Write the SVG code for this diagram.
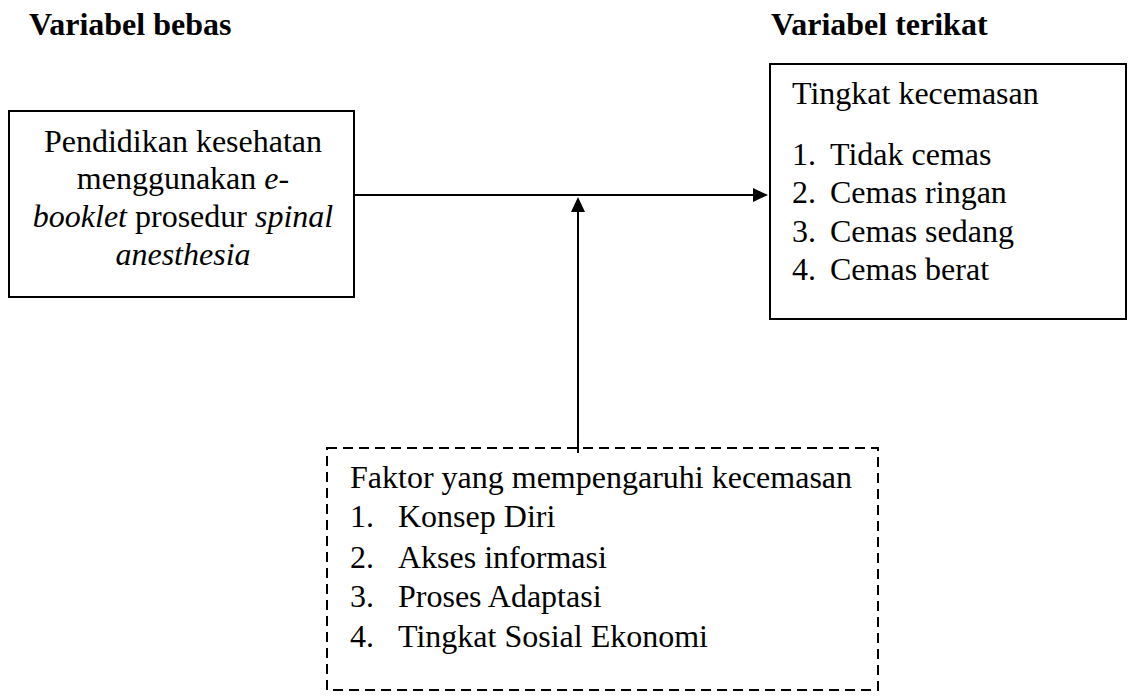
<svg xmlns="http://www.w3.org/2000/svg" width="1129" height="697" viewBox="0 0 1129 697">
<style>
.t{font-family:"Liberation Serif","Times New Roman",serif;font-size:32px;fill:#000}
.b{font-weight:bold}
.i{font-style:italic}
.box{fill:#fff;stroke:#000;stroke-width:2}
.dash{fill:#fff;stroke:#000;stroke-width:2;stroke-dasharray:10 6}
.con{stroke:#000;stroke-width:2;fill:none}
</style>
<defs>
<marker id="arr" markerUnits="userSpaceOnUse" markerWidth="16" markerHeight="14" refX="2" refY="7" orient="auto">
<path d="M0,0 L15,7 L0,14 Z" fill="#000"/>
</marker>
</defs>
<rect width="1129" height="697" fill="#fff"/>
<g id="titles">
<text class="t b" x="29" y="35">Variabel bebas</text>
<text class="t b" x="771" y="35">Variabel terikat</text>
</g>
<g id="node-bebas">
<rect class="box" x="9" y="111" width="345" height="186"/>
<text class="t" x="183" y="152" text-anchor="middle">Pendidikan kesehatan</text>
<text class="t" x="183" y="189" text-anchor="middle">menggunakan <tspan class="i">e-</tspan></text>
<text class="t" x="183" y="227" text-anchor="middle"><tspan class="i">booklet</tspan> prosedur <tspan class="i">spinal</tspan></text>
<text class="t i" x="183" y="265" text-anchor="middle">anesthesia</text>
</g>
<g id="node-terikat">
<rect class="box" x="770" y="64" width="356" height="255"/>
<text class="t" x="792" y="104">Tingkat kecemasan</text>
<text class="t" x="792" y="165">1.</text><text class="t" x="830" y="165">Tidak cemas</text>
<text class="t" x="792" y="203">2.</text><text class="t" x="830" y="203">Cemas ringan</text>
<text class="t" x="792" y="242">3.</text><text class="t" x="830" y="242">Cemas sedang</text>
<text class="t" x="792" y="280">4.</text><text class="t" x="830" y="280">Cemas berat</text>
</g>
<g id="node-faktor">
<rect class="dash" x="327" y="448" width="551" height="242"/>
<text class="t" x="350" y="488">Faktor yang mempengaruhi kecemasan</text>
<text class="t" x="350" y="527">1.</text><text class="t" x="398" y="527">Konsep Diri</text>
<text class="t" x="350" y="568">2.</text><text class="t" x="398" y="568">Akses informasi</text>
<text class="t" x="350" y="607">3.</text><text class="t" x="398" y="607">Proses Adaptasi</text>
<text class="t" x="350" y="647">4.</text><text class="t" x="398" y="647">Tingkat Sosial Ekonomi</text>
</g>
<g id="connectors">
<line class="con" x1="354" y1="195" x2="755" y2="195" marker-end="url(#arr)"/>
<line class="con" x1="578" y1="453" x2="578" y2="210" marker-end="url(#arr)"/>
</g>
</svg>
